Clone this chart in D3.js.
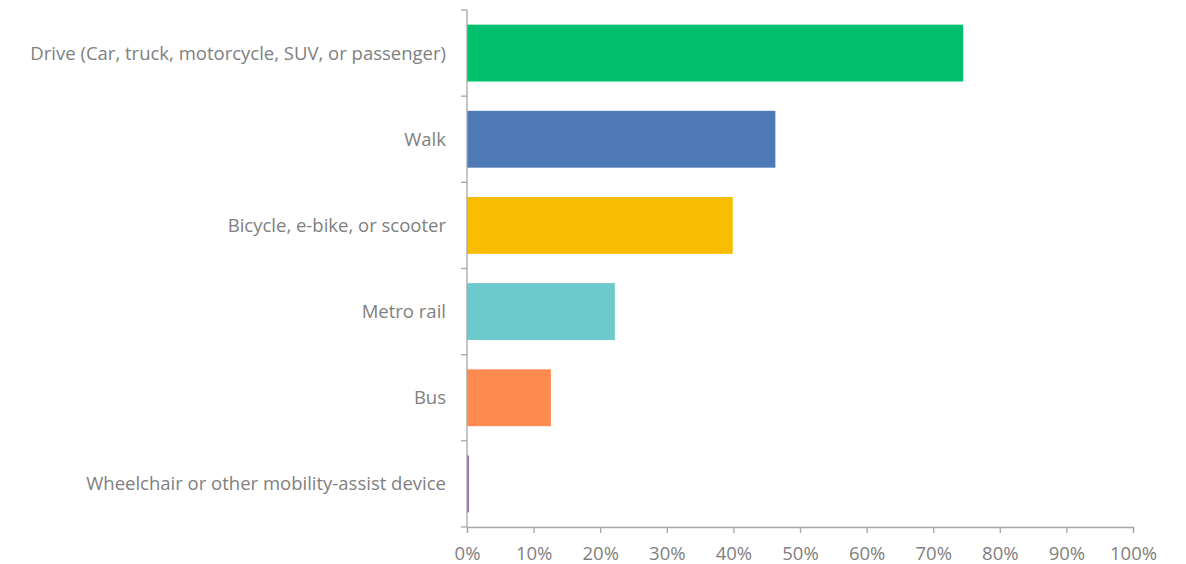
<!DOCTYPE html>
<html>
<head>
<meta charset="utf-8">
<script src="https://cdn.jsdelivr.net/npm/d3@7"></script>
<style>
  body { margin: 0; background: #fff; }
  text { font-family: "Open Sans", sans-serif; }
</style>
</head>
<body>
<div id="chart"></div>
<script>
const categories = [
  "Drive (Car, truck, motorcycle, SUV, or passenger)",
  "Walk",
  "Bicycle, e-bike, or scooter",
  "Metro rail",
  "Bus",
  "Wheelchair or other mobility-assist device"
];
const values = [74.5, 46.3, 39.9, 22.2, 12.6, 0.3];
const colors = ["#00c06e", "#4e7ab5", "#f8bd00", "#6ccacd", "#ff8a4f", "#8e6fa8"];
const xTicks = [0, 10, 20, 30, 40, 50, 60, 70, 80, 90, 100];

const width = 1186,
  height = 564,
  margin = { top: 10, bottom: 37, left: 467, right: 53 };

const svg = d3.select("#chart")
  .append("svg")
  .attr("width", width)
  .attr("height", height);

const x = d3.scaleLinear()
  .domain([0, 100])
  .range([margin.left, width - margin.right]);

const y = d3.scaleBand()
  .domain(categories)
  .range([margin.top, height - margin.bottom])
  .paddingInner(0.34)
  .paddingOuter(0.17);

svg.selectAll("rect.bar")
  .data(categories)
  .join("rect")
  .attr("class", "bar")
  .attr("x", x(0))
  .attr("y", d => y(d))
  .attr("width", (d, i) => Math.max(x(values[i]) - x(0), 1.5))
  .attr("height", y.bandwidth())
  .attr("fill", (d, i) => colors[i]);

// category axis: ticks between bands
const yAxis = svg.append("g").attr("transform", `translate(${margin.left},0)`);
const step = y.step();
const edges = d3.range(categories.length + 1).map(i => margin.top + i * step);
yAxis.append("line")
  .attr("x1", 0).attr("x2", 0)
  .attr("y1", margin.top).attr("y2", height - margin.bottom)
  .attr("stroke", "#a6a6a6").attr("stroke-width", 1.3);
yAxis.selectAll("line.tick")
  .data(edges)
  .join("line")
  .attr("class", "tick")
  .attr("x1", -6).attr("x2", 0)
  .attr("y1", d => d).attr("y2", d => d)
  .attr("stroke", "#a6a6a6").attr("stroke-width", 1.3);
yAxis.selectAll("text")
  .data(categories)
  .join("text")
  .attr("x", -21)
  .attr("y", d => y(d) + y.bandwidth() / 2)
  .attr("dy", "0.35em")
  .attr("text-anchor", "end")
  .attr("fill", "#808080")
  .style("font-size", "18.5px")
  .text(d => d);

// value axis
const xAxis = svg.append("g")
  .attr("transform", `translate(0,${height - margin.bottom})`)
  .call(d3.axisBottom(x).tickValues(xTicks).tickFormat(d => d + "%").tickSize(6).tickPadding(14));
xAxis.select(".domain").attr("stroke", "#a6a6a6").attr("stroke-width", 1.3);
xAxis.selectAll(".tick line").attr("stroke", "#a6a6a6").attr("stroke-width", 1.3);
xAxis.selectAll(".tick text")
  .attr("fill", "#808080")
  .style("font-size", "18.5px")
  .style("font-family", "'Open Sans', sans-serif");
</script>
</body>
</html>
